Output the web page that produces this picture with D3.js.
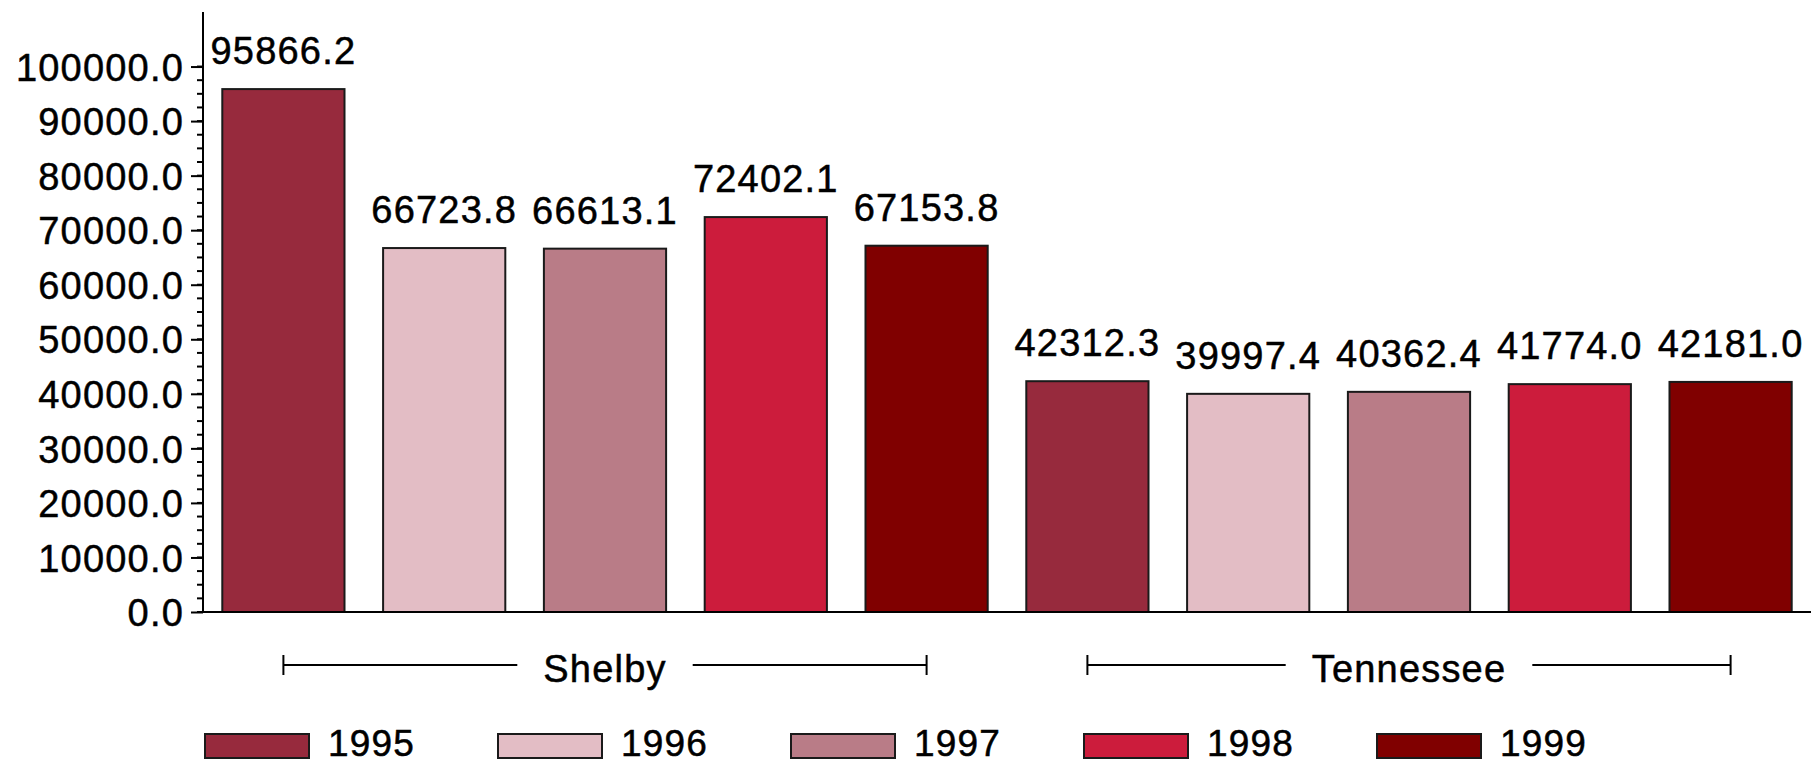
<!DOCTYPE html>
<html>
<head>
<meta charset="utf-8">
<script src="https://cdn.jsdelivr.net/npm/d3@7"></script>
<style>
  html, body { margin: 0; padding: 0; background: #fff; }
  svg { display: block; }
  text { font-family: "Liberation Sans", Arial, sans-serif; fill: #000; stroke: #000; stroke-width: 0.5px; letter-spacing: 1.2px; }
</style>
</head>
<body>
<svg id="chart" width="1818" height="764"></svg>
<script>
// ---- data ----
const categories = ["Shelby", "Tennessee"];
const years = ["1995", "1996", "1997", "1998", "1999"];
const s1995 = [95866.2, 42312.3];
const s1996 = [66723.8, 39997.4];
const s1997 = [66613.1, 40362.4];
const s1998 = [72402.1, 41774.0];
const s1999 = [67153.8, 42181.0];
const seriesValues = [s1995, s1996, s1997, s1998, s1999];
const colors = ["#972a3d", "#e3bdc5", "#b97c87", "#cc1c3c", "#800000"];
const yTicks = [0, 10000, 20000, 30000, 40000, 50000, 60000, 70000, 80000, 90000, 100000];

(function () {
// ---- layout ----
const svg = d3.select("#chart");
const pLeft = 203, pRight = 1811, pBottom = 612, pTop = 12;
const fontSize = 38;

const x0 = d3.scaleBand().domain(categories).range([pLeft, pRight]).padding(0);
const x1 = d3.scaleBand().domain(years).range([0, x0.bandwidth()])
  .paddingInner(0.24).paddingOuter(0.12);
const y = d3.scaleLinear().domain([0, 110000]).range([pBottom, pTop]);

const fmt = d3.format(".1f");

// minor ticks
const minor = d3.range(0, 100001, 2500);
svg.append("g").selectAll("line").data(minor).join("line")
  .attr("x1", pLeft - 6).attr("x2", pLeft)
  .attr("y1", d => y(d)).attr("y2", d => y(d))
  .attr("stroke", "#000").attr("stroke-width", 2);

// y axis
const yAxis = d3.axisLeft(y).tickValues(yTicks).tickFormat(fmt).tickSize(12).tickPadding(7);
const gy = svg.append("g").attr("transform", `translate(${pLeft},0)`).call(yAxis);
gy.select(".domain").attr("stroke", "#000").attr("stroke-width", 2)
  .attr("d", `M0,${pBottom}V${pTop}`);
gy.selectAll(".tick line").attr("stroke", "#000").attr("stroke-width", 2);
gy.selectAll(".tick text").attr("font-size", fontSize)
  .attr("font-family", "'Liberation Sans', Arial, sans-serif")
  .attr("fill", "#000").attr("dy", "0.36em");

// bars
const groups = svg.append("g").selectAll("g").data(categories).join("g")
  .attr("transform", d => `translate(${x0(d)},0)`);

groups.each(function(cat, ci) {
  const g = d3.select(this);
  const data = years.map((yr, i) => ({ yr, i, v: seriesValues[i][ci] }));
  g.selectAll("rect").data(data).join("rect")
    .attr("x", d => x1(d.yr))
    .attr("y", d => y(d.v))
    .attr("width", x1.bandwidth())
    .attr("height", d => y(0) - y(d.v))
    .attr("fill", d => colors[d.i])
    .attr("stroke", "#1a1a1a").attr("stroke-width", 2);
  g.selectAll("text.val").data(data).join("text").attr("class", "val")
    .attr("x", d => x1(d.yr) + x1.bandwidth() / 2)
    .attr("y", d => y(d.v) - 25)
    .attr("text-anchor", "middle")
    .attr("font-size", fontSize)
    .text(d => fmt(d.v));

  // group bracket
  const xa = x1(years[0]) + x1.bandwidth() / 2;
  const xb = x1(years[years.length - 1]) + x1.bandwidth() / 2;
  const cx = (xa + xb) / 2;
  const ly = 665;
  const t = g.append("text").attr("x", cx).attr("y", 682)
    .attr("text-anchor", "middle").attr("font-size", fontSize).text(cat);
  const tw = t.node().getComputedTextLength();
  const gap = tw / 2 + 26;
  g.append("line").attr("x1", xa).attr("x2", cx - gap).attr("y1", ly).attr("y2", ly)
    .attr("stroke", "#000").attr("stroke-width", 2);
  g.append("line").attr("x1", cx + gap).attr("x2", xb).attr("y1", ly).attr("y2", ly)
    .attr("stroke", "#000").attr("stroke-width", 2);
  [xa, xb].forEach(xx => g.append("line").attr("x1", xx).attr("x2", xx)
    .attr("y1", ly - 10).attr("y2", ly + 10).attr("stroke", "#000").attr("stroke-width", 2));
});

// x axis line
svg.append("line").attr("x1", pLeft).attr("x2", pRight).attr("y1", pBottom).attr("y2", pBottom)
  .attr("stroke", "#000").attr("stroke-width", 2);

// legend
const legend = svg.append("g").selectAll("g").data(years).join("g")
  .attr("transform", (d, i) => `translate(${205 + i * 293},734)`);
legend.append("rect").attr("width", 104).attr("height", 24)
  .attr("fill", (d, i) => colors[i]).attr("stroke", "#1a1a1a").attr("stroke-width", 2);
legend.append("text").attr("x", 123).attr("y", 22).attr("font-size", 37).text(d => d);
})();
</script>
</body>
</html>
